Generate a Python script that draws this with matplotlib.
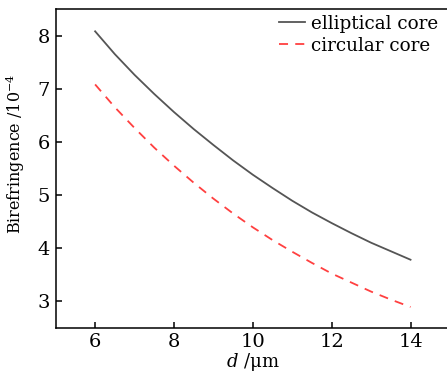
import numpy as np
import matplotlib.pyplot as plt

plt.rcParams['font.family'] = 'DejaVu Serif'
plt.rcParams['mathtext.fontset'] = 'dejavuserif'

d = [6, 6.5, 7, 7.5, 8, 8.5, 9, 9.5, 10, 10.5, 11, 11.5, 12, 12.5, 13, 13.5, 14]
elliptical = [8.08, 7.65, 7.26, 6.90, 6.56, 6.24, 5.94, 5.65, 5.38,
              5.13, 4.89, 4.67, 4.47, 4.28, 4.10, 3.94, 3.78]
circular = [7.08, 6.65, 6.26, 5.89, 5.55, 5.23, 4.93, 4.65, 4.39,
            4.15, 3.93, 3.72, 3.52, 3.35, 3.18, 3.03, 2.89]

fig = plt.figure(figsize=(4.47, 3.80), dpi=100)
ax = fig.add_axes([0.1246, 0.1376, 0.882, 0.8387])

ax.plot(d, elliptical, '-', color='#555555', lw=1.3, label='elliptical core')
ax.plot(d, circular, '--', color='#ff4040', lw=1.3, dashes=(5, 4), label='circular core')

ax.set_xlim(5, 15)
ax.set_ylim(2.5, 8.5)
ax.set_xticks([6, 8, 10, 12, 14])
ax.set_yticks([3, 4, 5, 6, 7, 8])
ax.tick_params(direction='in', length=4, width=1.1, labelsize=14, pad=4)
ax.tick_params(top=False, right=False)
for s in ax.spines.values():
    s.set_linewidth(1.1)

ax.set_xlabel(r'$d$ /μm', fontsize=13, labelpad=0)
ax.set_ylabel(r'Birefringence /10$^{-4}$', fontsize=11.5)
ax.yaxis.set_label_coords(-0.072, 0.545)

ax.legend(loc='upper right', bbox_to_anchor=(1.0, 0.985), bbox_transform=fig.transFigure,
          frameon=False, fontsize=13.2, handlelength=1.45, handletextpad=0.3,
          labelspacing=0.22, borderaxespad=0.1)

fig.savefig('out.png', dpi=100)
